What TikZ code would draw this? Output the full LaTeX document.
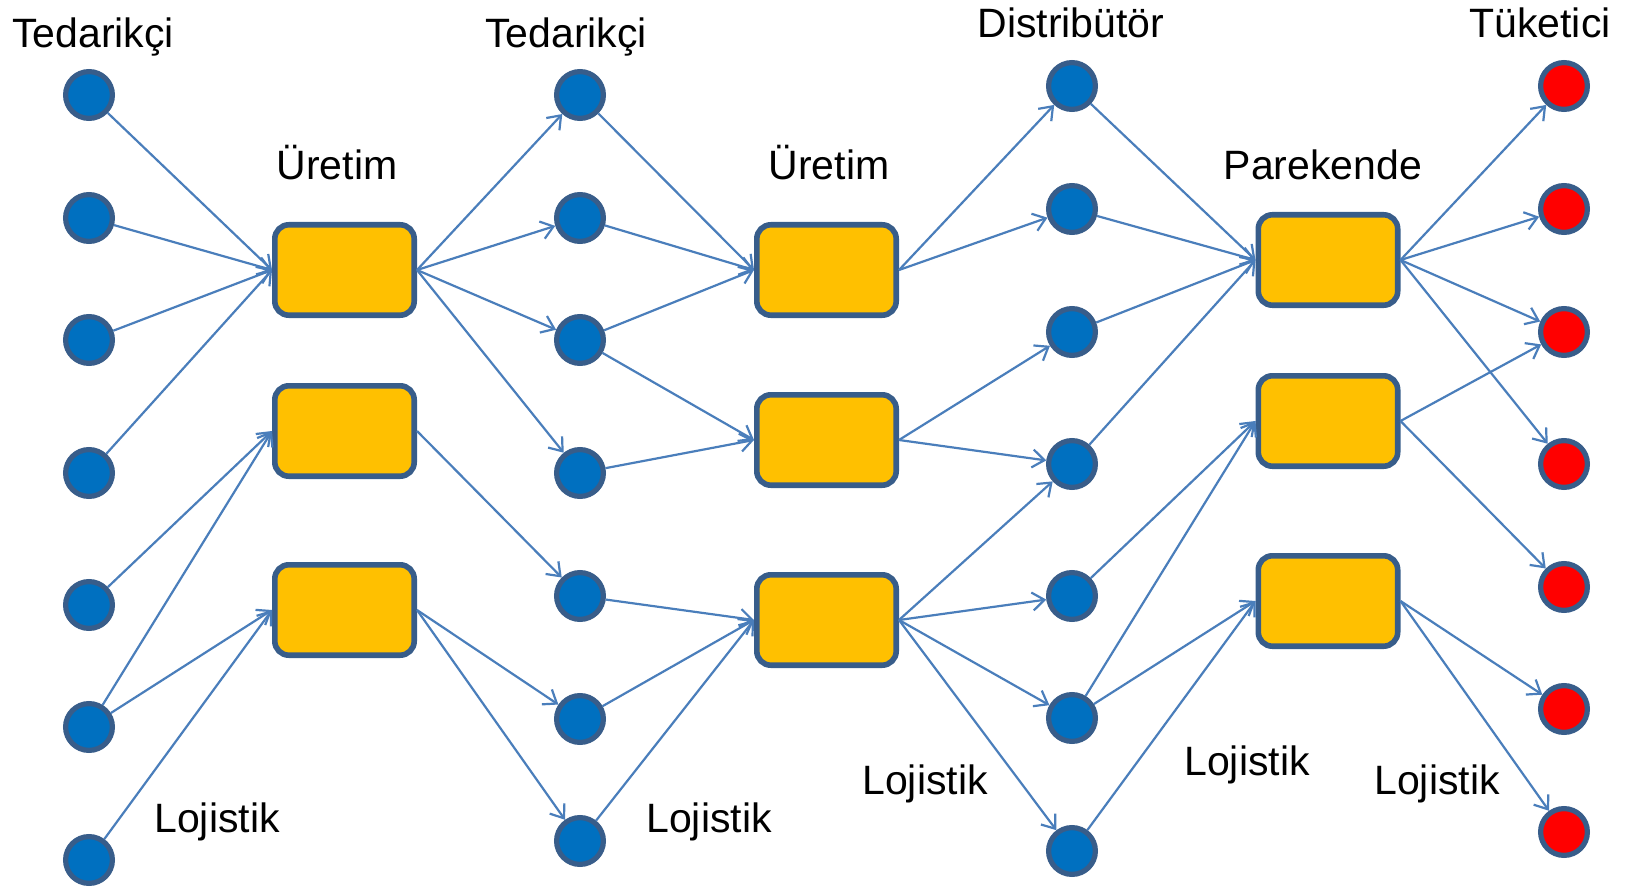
\documentclass[tikz,border=0pt]{standalone}
\usepackage{fontspec}
\setmainfont{Liberation Sans}
\usetikzlibrary{arrows.meta}
\definecolor{nodeblue}{HTML}{0070C0}
\definecolor{edgeblue}{HTML}{385D8A}
\definecolor{linkblue}{HTML}{4A7EBB}
\definecolor{boxgold}{HTML}{FFC000}
\definecolor{nodered}{HTML}{FF0000}
\begin{document}
\begin{tikzpicture}[x=0.5pt,y=-0.5pt,
  dot/.style={circle,fill=nodeblue,draw=edgeblue,line width=2.6pt,minimum size=23.4pt,inner sep=0pt},
  reddot/.style={dot,fill=nodered},
  box/.style={rectangle,rounded corners=7pt,fill=boxgold,draw=edgeblue,line width=2.8pt,minimum width=69.7pt,minimum height=45.2pt,inner sep=0pt},
  lab/.style={font=\fontsize{20.5}{24}\selectfont,anchor=base,inner sep=0pt},
  link/.style={draw=linkblue,line width=1.1pt,-{Straight Barb[length=6pt,width=9pt]}}]
\useasboundingbox (0,0) rectangle (1630,888);
% column A
\foreach \i/\y in {1/95,2/218,3/340,4/473,5/605,6/727,7/860}
  \node[dot] (A\i) at (89,\y) {};
% column B
\foreach \i/\y in {1/95,2/218,3/340,4/473,5/596,6/719,7/841}
  \node[dot] (B\i) at (580,\y) {};
% column D
\foreach \i/\y in {1/86,2/209,3/332,4/464,5/596,6/718,7/851}
  \node[dot] (D\i) at (1072,\y) {};
% column F
\foreach \i/\y in {1/86,2/209,3/332,4/464,5/587,6/709,7/832}
  \node[reddot] (F\i) at (1564,\y) {};
% boxes
\foreach \i/\y in {1/270,2/431,3/610}
  \node[box] (P\i) at (344.5,\y) {};
\foreach \i/\y in {1/270,2/440,3/620}
  \node[box] (Q\i) at (826.5,\y) {};
\foreach \i/\y in {1/260,2/421,3/601}
  \node[box] (R\i) at (1328,\y) {};
% connectors
\foreach \s/\t in {A1/P1,A2/P1,A3/P1,A4/P1,A5/P2,A6/P2,A6/P3,A7/P3}
  \draw[link] (\s) -- (\t.west);
\foreach \s/\t in {P1/B1,P1/B2,P1/B3,P1/B4,P2/B5,P3/B6,P3/B7}
  \draw[link] (\s.east) -- (\t);
\foreach \s/\t in {B1/Q1,B2/Q1,B3/Q1,B3/Q2,B4/Q2,B5/Q3,B6/Q3,B7/Q3}
  \draw[link] (\s) -- (\t.west);
\foreach \s/\t in {Q1/D1,Q1/D2,Q2/D3,Q2/D4,Q3/D4,Q3/D5,Q3/D6,Q3/D7}
  \draw[link] (\s.east) -- (\t);
\foreach \s/\t in {D1/R1,D2/R1,D3/R1,D4/R1,D5/R2,D6/R2,D6/R3,D7/R3}
  \draw[link] (\s) -- (\t.west);
\foreach \s/\t in {R1/F1,R1/F2,R1/F3,R1/F4,R2/F3,R2/F5,R3/F6,R3/F7}
  \draw[link] (\s.east) -- (\t);
% labels
\node[lab] (t1) at (93,48) {Tedarikçi};
\node[lab] (t2) at (566,48) {Tedarikçi};
\node[lab] (u1) at (337,180) {Üretim};
\node[lab] (u2) at (829,180) {Üretim};
\node[lab] (di) at (1071,38) {Distribütör};
\node[lab] (pa) at (1323,180) {Parekende};
\node[lab] (tu) at (1540,38) {Tüketici};
\node[lab] (l1) at (217,832) {Lojistik};
\node[lab] (l2) at (709,832) {Lojistik};
\node[lab] (l3) at (925,794) {Lojistik};
\node[lab] (l4) at (1247,775) {Lojistik};
\node[lab] (l5) at (1437,794) {Lojistik};
\end{tikzpicture}
\end{document}
